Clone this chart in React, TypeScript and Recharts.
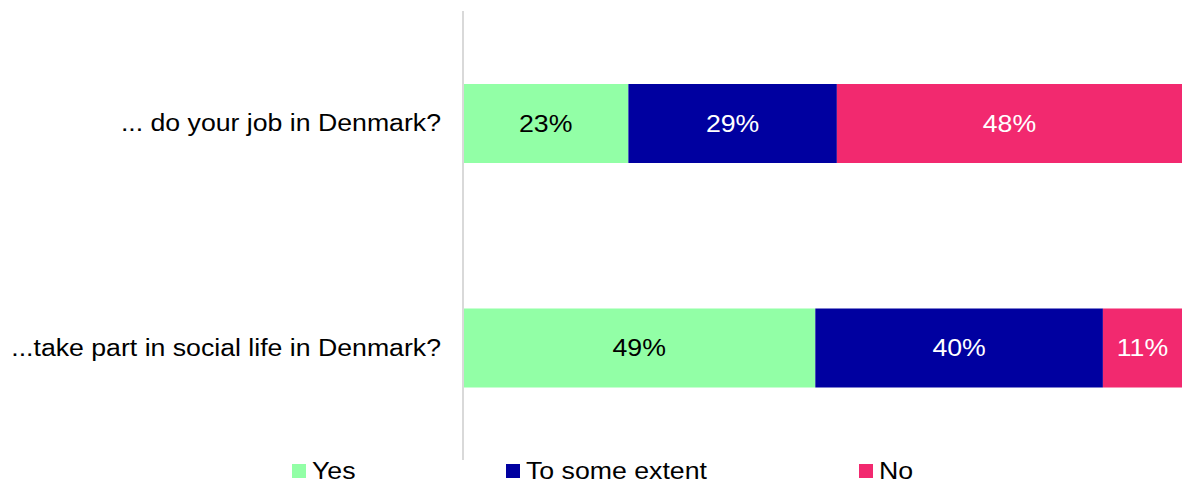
import React from 'react';
import { BarChart, Bar, XAxis, YAxis, LabelList } from 'recharts';

const questions = ['... do your job in Denmark?', '...take part in social life in Denmark?'];
const yesValues = [23, 49];
const someValues = [29, 40];
const noValues = [48, 11];

const series = [
  { key: 'yes', name: 'Yes', color: '#92FFA6', text: '#000000', legendX: 292 },
  { key: 'some', name: 'To some extent', color: '#0000A0', text: '#FFFFFF', legendX: 506 },
  { key: 'no', name: 'No', color: '#F2296F', text: '#FFFFFF', legendX: 859 },
];

const data = questions.map((q, i) => ({
  name: q,
  yes: yesValues[i],
  some: someValues[i],
  no: noValues[i],
}));

const font = '"Liberation Sans", Arial, sans-serif';
// the source image is a bit stretched sideways, so text is too
const stretch = 1.16;

const QuestionTick = (props: any) => {
  const { x, y, payload } = props;
  return (
    <text
      transform={`translate(${x},${y}) scale(${stretch},1)`}
      textAnchor="end"
      dy="0.355em"
      fill="#000"
      fontSize={23}
      fontFamily={font}
    >
      {payload.value}
    </text>
  );
};

const makeLabel = (color: string) => (props: any) => {
  const { x, y, width, height, value } = props;
  const cx = Number(x) + Number(width) / 2;
  const cy = Number(y) + Number(height) / 2;
  return (
    <text
      transform={`translate(${cx},${cy}) scale(${stretch},1)`}
      textAnchor="middle"
      dy="0.355em"
      fill={color}
      fontSize={23}
      fontFamily={font}
    >
      {`${value}%`}
    </text>
  );
};

const App: React.FC = () => {
  return (
    <div style={{ position: 'absolute', left: 0, top: 0, width: 1183, height: 484, background: '#fff', fontFamily: font }}>
      <BarChart
        width={1183}
        height={484}
        data={data}
        layout="vertical"
        margin={{ top: 11, right: 1, bottom: 24, left: 0 }}
        barSize={79}
      >
        <XAxis type="number" domain={[0, 100]} hide />
        <YAxis
          type="category"
          dataKey="name"
          width={463}
          axisLine={{ stroke: '#D9D9D9', strokeWidth: 2 }}
          tickLine={false}
          tickSize={0}
          tickMargin={22}
          tick={<QuestionTick />}
        />
        {series.map((s) => (
          <Bar key={s.key} dataKey={s.key} stackId="a" fill={s.color} isAnimationActive={false}>
            <LabelList dataKey={s.key} content={makeLabel(s.text)} />
          </Bar>
        ))}
      </BarChart>
      {series.map((s) => (
        <div
          key={s.key}
          style={{
            position: 'absolute',
            left: s.legendX,
            top: 457,
            height: 28,
            display: 'flex',
            alignItems: 'center',
            fontSize: 23,
            color: '#000',
            whiteSpace: 'nowrap',
          }}
        >
          <span style={{ display: 'inline-block', width: 14, height: 14, background: s.color, marginRight: 6 }} />
          <span style={{ display: 'inline-block', transform: `scaleX(${stretch})`, transformOrigin: 'left center' }}>{s.name}</span>
        </div>
      ))}
    </div>
  );
};

export default App;
